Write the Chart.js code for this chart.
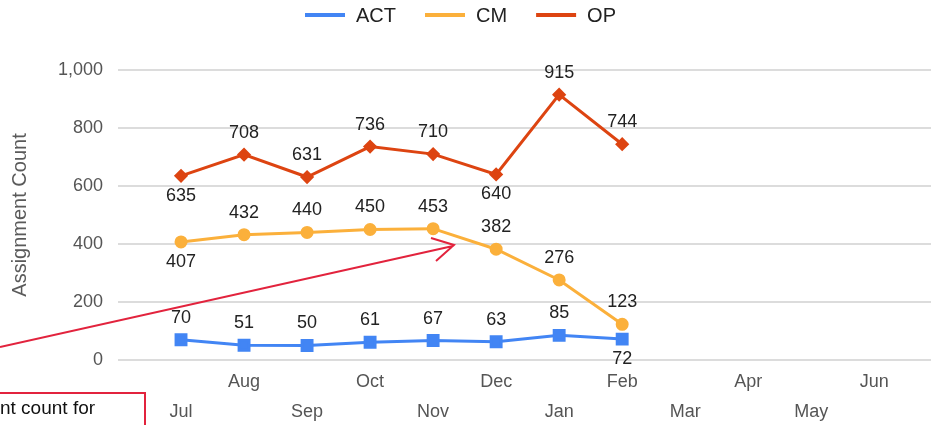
<!DOCTYPE html>
<html>
<head>
<meta charset="utf-8">
<script src="https://cdn.jsdelivr.net/npm/chart.js@4/dist/chart.umd.min.js"></script>
<style>
  html, body { margin: 0; padding: 0; background: #fff; }
  #wrap { width: 931px; height: 425px; }
</style>
</head>
<body>
<div id="wrap"><canvas id="assign-line"></canvas></div>
<script>
var months = ["Jul", "Aug", "Sep", "Oct", "Nov", "Dec", "Jan", "Feb", "Mar", "Apr", "May", "Jun"];
var actValues = [70, 51, 50, 61, 67, 63, 85, 72];
var cmValues = [407, 432, 440, 450, 453, 382, 276, 123];
var opValues = [635, 708, 631, 736, 710, 640, 915, 744];
var yTicks = [0, 200, 400, 600, 800, 1000];

// which points get their value printed under the point instead of over it
var labelsBelow = { ACT: [7], CM: [0], OP: [0, 5] };

var FONT = "Arial, 'Liberation Sans', sans-serif";

function toPoints(arr) {
    return arr.map(function(v, i) { return { x: i, y: v }; });
}

var valueLabels = {
    id: 'valueLabels',
    afterDatasetsDraw: function(chart) {
        var ctx = chart.ctx;
        ctx.save();
        ctx.font = '18px ' + FONT;
        ctx.fillStyle = '#222';
        ctx.textAlign = 'center';
        ctx.textBaseline = 'middle';
        chart.data.datasets.forEach(function(ds, di) {
            var meta = chart.getDatasetMeta(di);
            var below = labelsBelow[ds.label] || [];
            meta.data.forEach(function(pt, i) {
                var dy = below.indexOf(i) >= 0 ? 20 : -22;
                ctx.fillText(String(ds.data[i].y), pt.x, pt.y + dy);
            });
        });
        ctx.restore();
    }
};

var legendAndNote = {
    id: 'legendAndNote',
    afterDraw: function(chart) {
        var ctx = chart.ctx;
        ctx.save();
        // legend
        ctx.font = '20px ' + FONT;
        ctx.textBaseline = 'middle';
        var x = 305, y = 15;
        chart.data.datasets.forEach(function(ds) {
            ctx.fillStyle = ds.borderColor;
            ctx.fillRect(x, y - 2, 40, 4);
            x += 51;
            ctx.fillStyle = '#222';
            ctx.textAlign = 'left';
            ctx.fillText(ds.label, x, y + 1);
            x += ctx.measureText(ds.label).width + 29;
        });

        // annotation arrow
        ctx.strokeStyle = '#e2233d';
        ctx.lineWidth = 2;
        ctx.beginPath();
        ctx.moveTo(0, 347);
        ctx.lineTo(453, 246);
        ctx.moveTo(431, 238);
        ctx.lineTo(454, 245);
        ctx.lineTo(436, 261);
        ctx.stroke();

        // annotation box (cut off by the left/bottom edge)
        ctx.strokeRect(-20, 393, 165, 60);
        ctx.fillStyle = '#111';
        ctx.font = '19px ' + FONT;
        ctx.textAlign = 'left';
        ctx.textBaseline = 'alphabetic';
        ctx.fillText('nt count for', 0, 414);
        ctx.restore();
    }
};

new Chart(document.getElementById("assign-line"), {
    type: 'line',
    data: {
        datasets: [
            {
                label: "ACT",
                data: toPoints(actValues),
                borderColor: "#4285f4",
                backgroundColor: "#4285f4",
                borderWidth: 3,
                pointStyle: 'rect',
                pointRadius: 7,
                pointHoverRadius: 7,
                tension: 0
            }, {
                label: "CM",
                data: toPoints(cmValues),
                borderColor: "#fbb03b",
                backgroundColor: "#fbb03b",
                borderWidth: 3,
                pointStyle: 'circle',
                pointRadius: 5,
                pointHoverRadius: 5,
                tension: 0
            }, {
                label: "OP",
                data: toPoints(opValues),
                borderColor: "#dd4411",
                backgroundColor: "#dd4411",
                borderWidth: 3,
                pointStyle: 'rectRot',
                pointRadius: 5,
                pointHoverRadius: 5,
                tension: 0
            }
        ]
    },
    options: {
        responsive: true,
        maintainAspectRatio: false,
        animation: false,
        layout: { autoPadding: false, padding: { top: 70, left: 0, right: 0, bottom: 0 } },
        plugins: {
            legend: { display: false },
            tooltip: { enabled: false }
        },
        scales: {
            x: {
                type: 'linear',
                min: -1,
                max: 11.9,
                afterBuildTicks: function(scale) {
                    scale.ticks = months.map(function(m, i) { return { value: i }; });
                },
                afterFit: function(scale) {
                    scale.height = 65;
                    scale.paddingLeft = 0;
                    scale.paddingRight = 0;
                },
                grid: { display: false, drawTicks: false },
                border: { display: false },
                ticks: {
                    autoSkip: false,
                    maxRotation: 0,
                    padding: 7,
                    color: '#555',
                    font: { family: FONT, size: 18, lineHeight: 1.65 },
                    callback: function(v) {
                        var m = months[v];
                        if (m === undefined) return '';
                        return v % 2 === 1 ? [m] : ['', m];
                    }
                }
            },
            y: {
                min: 0,
                max: 1000,
                afterBuildTicks: function(scale) {
                    scale.ticks = yTicks.map(function(v) { return { value: v }; });
                },
                afterFit: function(scale) { scale.width = 118; },
                grid: { color: '#dcdcdc', lineWidth: 2, drawTicks: false },
                border: { display: false },
                ticks: {
                    padding: 15,
                    color: '#555',
                    font: { family: FONT, size: 18 },
                    callback: function(v) { return v.toLocaleString('en-US'); }
                },
                title: {
                    display: true,
                    text: 'Assignment Count',
                    color: '#5a5a5a',
                    padding: { top: 8, bottom: 0 },
                    font: { family: FONT, size: 20 }
                }
            }
        }
    },
    plugins: [valueLabels, legendAndNote]
});
</script>
</body>
</html>
